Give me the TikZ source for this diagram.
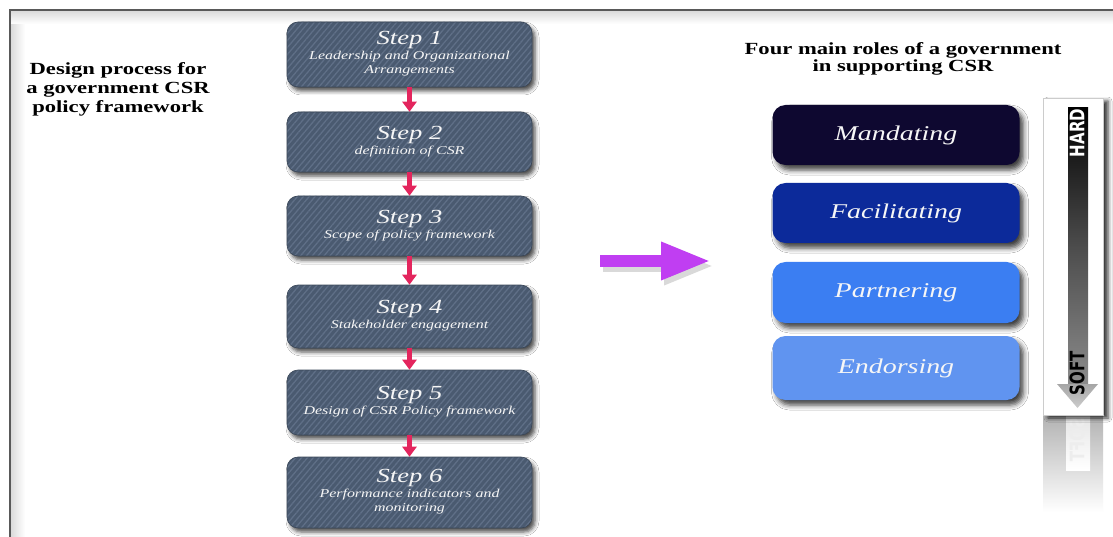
\documentclass[tikz,border=0pt]{standalone}
\usepackage{fontspec}
\setmainfont{Liberation Serif}
\newfontfamily\labelfont{DejaVu Sans}
\usetikzlibrary{arrows.meta,shadows.blur,patterns.meta}

\definecolor{stepfill}{HTML}{4A5A70}
\definecolor{stepline}{HTML}{5F6F87}
\definecolor{stepedge}{HTML}{3A4758}
\definecolor{arrowpink}{HTML}{E3255D}
\definecolor{mandfill}{HTML}{0E0830}
\definecolor{facfill}{HTML}{0C2A9A}
\definecolor{partfill}{HTML}{3B7EF2}
\definecolor{endfill}{HTML}{6094F0}
\definecolor{arrowviolet}{HTML}{C03EF2}
\definecolor{boxtext}{HTML}{F6F6F6}

% wide lettering used throughout
\newcommand{\stretchx}[1]{\scalebox{1.33}[1]{#1}}
\newcommand{\stepfont}{\fontsize{20}{20}\selectfont\itshape}
\newcommand{\subfont}{\fontsize{12}{14}\selectfont\itshape}
\newcommand{\rolefont}{\fontsize{21}{24}\selectfont\itshape}
\newcommand{\titlefont}{\fontsize{17}{19}\selectfont\bfseries}
\newcommand{\steptext}[2]{\stretchx{\subfont\begin{tabular}{@{}c@{}}{\stepfont Step #1}\\[1pt] #2\end{tabular}}}
\newcommand{\roletext}[1]{\stretchx{\rolefont #1}}

\begin{document}
\begin{tikzpicture}[x=1pt,y=-1pt,
  stepbox/.style={rectangle, rounded corners=11pt, minimum width=245pt, inner sep=0pt,
    text=boxtext,
    blur shadow={shadow xshift=3pt, shadow yshift=-4pt, shadow blur radius=4pt, shadow opacity=70},
    preaction={fill=stepfill},
    pattern={Lines[angle=50,distance=4.5pt,line width=1.3pt]}, pattern color=stepline,
    draw=stepedge, line width=0.6pt},
  rolebox/.style={rectangle, rounded corners=13pt, minimum width=247pt, inner sep=0pt,
    text=boxtext,
    blur shadow={shadow xshift=4pt, shadow yshift=-5pt, shadow blur radius=5pt, shadow opacity=75}},
  steparrow/.style={line width=5pt, draw=arrowpink, -{Triangle[width=14pt,length=10pt]}},
  title/.style={text=black, inner sep=0pt},
  scalelabel/.style={inner sep=0pt, font=\labelfont\bfseries\fontsize{15}{15}\selectfont}
]
\useasboundingbox (0,0) rectangle (1113,537);
\fill[white] (0,0) rectangle (1113,537);

% frame with soft inner edge
\shade[left color=black!14, right color=white] (11,11) rectangle (25,537);
\shade[top color=black!14, bottom color=white] (11,11) rectangle (1113,24);
\draw[line width=2pt, black!65] (10,537) -- (10,10) -- (1113,10);

% headings
\node[title] (lth) at (118,89.5) {\stretchx{\titlefont\begin{tabular}{@{}c@{}}Design process for\\ a government CSR\\ policy framework\end{tabular}}};
\node[title] (rth) at (903,60) {\stretchx{\fontsize{17}{17}\selectfont\bfseries\begin{tabular}{@{}c@{}}Four main roles of a government\\ in supporting CSR\end{tabular}}};

% design steps
\node[stepbox, minimum height=65pt] (s1) at (409.5,54.5) {\steptext{1}{Leadership and Organizational\\ Arrangements}};
\node[stepbox, minimum height=60pt] (s2) at (409.5,142) {\steptext{2}{definition of CSR}};
\node[stepbox, minimum height=60pt] (s3) at (409.5,226) {\steptext{3}{Scope of policy framework}};
\node[stepbox, minimum height=63pt] (s4) at (409.5,316.5) {\steptext{4}{Stakeholder engagement}};
\node[stepbox, minimum height=65pt] (s5) at (409.5,402.5) {\steptext{5}{Design of CSR Policy framework}};
\node[stepbox, minimum height=71pt] (s6) at (409.5,492.5) {\steptext{6}{Performance indicators and\\ monitoring}};

\draw[steparrow] (s1.south) -- (s2.north);
\draw[steparrow] (s2.south) -- (s3.north);
\draw[steparrow] (s3.south) -- (s4.north);
\draw[steparrow] (s4.south) -- (s5.north);
\draw[steparrow] (s5.south) -- (s6.north);

% link between the two halves
\coordinate (pa) at (600,261);
\coordinate (pb) at (711,261);
\coordinate (pa-s) at (603,266);
\coordinate (pb-s) at (714,266);
\draw[line width=12pt, draw=black, opacity=0.15, -{Triangle[width=35pt,length=50pt]}] (pa-s) -- (pb-s);
\draw[line width=12pt, draw=arrowviolet, -{Triangle[width=35pt,length=50pt]}] (pa) -- (pb);

% roles of government
\node[rolebox, fill=mandfill, minimum height=60pt] (r1) at (896,135) {\roletext{Mandating}};
\node[rolebox, fill=facfill, minimum height=60pt] (r2) at (896,213) {\roletext{Facilitating}};
\node[rolebox, fill=partfill, minimum height=61pt] (r3) at (896,292.5) {\roletext{Partnering}};
\node[rolebox, fill=endfill, minimum height=64pt] (r4) at (896,368) {\roletext{Endorsing}};

% hard-to-soft scale
\shade[top color=black!30, bottom color=white] (1043,415) rectangle (1103,512);
\shade[top color=black!10, bottom color=white] (1066,415) rectangle (1090,470);
\node[inner sep=0pt, text=black!7, font=\labelfont\bfseries\fontsize{15}{15}\selectfont] (soft-r) at (1077,440) {\scalebox{1.33}[-1]{\rotatebox{90}{SOFT}}};
\node[rectangle, minimum width=60pt, minimum height=317pt, fill=white, draw=black!20, line width=0.5pt,
  blur shadow={shadow xshift=5pt, shadow yshift=-3pt, shadow blur radius=4pt, shadow opacity=80}] (panel) at (1073,256.5) {};
\shade[top color=black, bottom color=black!45, middle color=black!70] (1068,108) rectangle (1088,386);
\shade[top color=black!35, bottom color=black!20] (1057,384) -- (1098,384) -- (1077.5,408) -- cycle;
\node[scalelabel, text=white] (hard) at (1077,133) {\stretchx{\rotatebox{90}{HARD}}};
\node[scalelabel, text=black] (soft) at (1077,373) {\stretchx{\rotatebox{90}{SOFT}}};
\end{tikzpicture}
\end{document}
